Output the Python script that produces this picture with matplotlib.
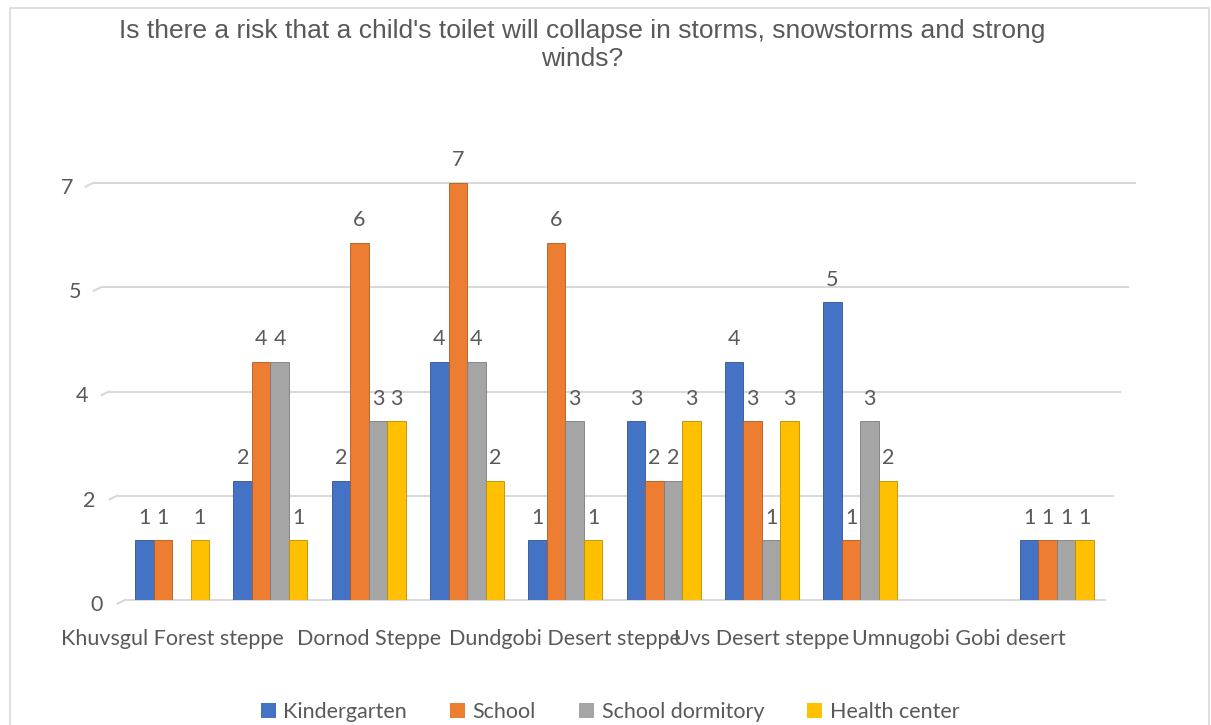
import numpy as np
import matplotlib
matplotlib.use("Agg")
import matplotlib.pyplot as plt
from matplotlib.patches import Rectangle, Patch

# regions (only every other label is shown on the axis)
categories = ["Khuvsgul Forest steppe", "", "Dornod Steppe", "", "Dundgobi Desert steppe",
              "", "Uvs Desert steppe", "", "Umnugobi Gobi desert", ""]

series = ["Kindergarten", "School", "School dormitory", "Health center"]
kindergarten = [1, 2, 2, 4, 1, 3, 4, 5, np.nan, 1]
school = [1, 4, 6, 7, 6, 2, 3, 1, np.nan, 1]
dormitory = [np.nan, 4, 3, 4, 3, 2, 1, 3, np.nan, 1]
health_center = [1, 1, 3, 2, 1, 3, 3, 2, np.nan, 1]

yticks = [0, 1.75, 3.5, 5.25, 7]

colors = ["#4472C4", "#ED7D31", "#A5A5A5", "#FFC000"]
edges = ["#2F528F", "#AE5A21", "#7B7B7B", "#BC8C00"]
text_color = "#595959"
font = "Lato"
fs = 15.5

fig = plt.figure(figsize=(12.11, 7.25), dpi=100)
W, H = 1211, 725

# chart frame
fig.patches.append(Rectangle((10 / W, -0.1), 1199 / W, 1.1 - 8 / H, transform=fig.transFigure,
                             fill=False, edgecolor="#D9D9D9", linewidth=1.2))

ax = fig.add_axes([123 / W, 1 - 600 / H, 983 / W, 417 / H])
ax.set_xlim(-0.5, 9.5)
ax.set_ylim(0, 7)
for s in ax.spines.values():
    s.set_visible(False)
ax.set_yticks([])
ax.tick_params(axis="x", length=0, pad=21)

# gridlines, slightly wider towards the top like the 3D floor
for v in yticks:
    left = (125 - 4.57 * v - 123) / 983
    right = (1105 + 4.3 * v - 123) / 983
    ax.axhline(v, xmin=left, xmax=right, color="#D9D9D9", linewidth=1.5, clip_on=False, zorder=0)
    x0 = -0.5 + left * 10
    ax.plot([x0 - 0.075, x0], [v - 0.06, v], color="#D9D9D9", linewidth=1.5, clip_on=False, zorder=0)
    ax.annotate(f"{v:.0f}", xy=(0, v), xycoords=("axes fraction", "data"),
                xytext=(-(26 + 4.2 * v), -5), textcoords="offset pixels",
                ha="center", va="center", fontsize=fs, color=text_color, family=font)

x = np.arange(len(categories))
width = 0.188
data = [kindergarten, school, dormitory, health_center]
for i, (vals, name) in enumerate(zip(data, series)):
    pos = x + (i - 1.5) * width
    bars = ax.bar(pos, vals, width, color=colors[i], edgecolor=edges[i], linewidth=0.6,
                  label=name, zorder=2)
    labels = ["" if np.isnan(v) else f"{v:.0f}" for v in vals]
    ax.bar_label(bars, labels=labels, padding=9, fontsize=fs, color=text_color, family=font)

ax.set_xticks(x)
ax.set_xticklabels(categories, fontsize=fs, color=text_color, family=font)

fig.text(582 / W, 1 - 45 / H,
         "Is there a risk that a child's toilet will collapse in storms, snowstorms and strong\nwinds?",
         ha="center", va="center", fontsize=19, color=text_color, family="Liberation Sans",
         linespacing=1.22)

handles = [Patch(facecolor=c, edgecolor="none") for c in colors]
fig.legend(handles, series, loc="center", bbox_to_anchor=(610 / W, 1 - 712 / H), ncol=4,
           frameon=False, handlelength=0.7, handleheight=0.7, handletextpad=0.35,
           columnspacing=2.0, prop={"family": font, "size": fs}, labelcolor=text_color)

fig.savefig("out.png", dpi=100)
